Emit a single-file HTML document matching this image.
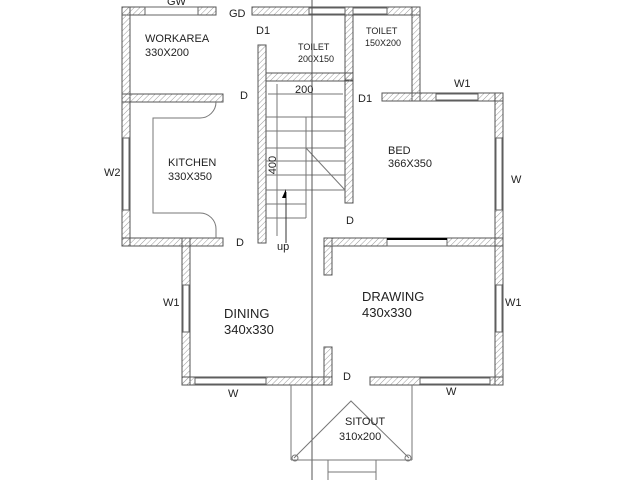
<!DOCTYPE html>
<html><head><style>body{margin:0;background:#fff}svg{display:block}</style></head><body>
<svg width="640" height="480" viewBox="0 0 640 480" xmlns="http://www.w3.org/2000/svg" font-family="Liberation Sans, DejaVu Sans, sans-serif">
<defs><pattern id="h" width="4" height="4" patternUnits="userSpaceOnUse" patternTransform="rotate(45)"><line x1="0" y1="0" x2="0" y2="4" stroke="#999" stroke-width="1"/></pattern></defs>
<rect width="640" height="480" fill="#fff"/>
<g fill="url(#h)" stroke="#555" stroke-width="1">
<!-- top wall -->
<rect x="122" y="7" width="94" height="8"/>
<rect x="252" y="7" width="168" height="8"/>
<rect x="122" y="7" width="8" height="239"/>
<rect x="345" y="7" width="8" height="73"/>
<rect x="412" y="7" width="8" height="94"/>
<rect x="382" y="93" width="121" height="8"/>
<rect x="495" y="93" width="8" height="292"/>
<rect x="122" y="94" width="101" height="8"/>
<rect x="122" y="238" width="101" height="8"/>
<rect x="258" y="45" width="8" height="198"/>
<rect x="266" y="73" width="87" height="8"/>
<rect x="345" y="73" width="8" height="130"/>
<rect x="182" y="238" width="8" height="147"/>
<rect x="182" y="377" width="150" height="8"/>
<rect x="324" y="238" width="8" height="37"/>
<rect x="324" y="347" width="8" height="38"/>
<rect x="324" y="238" width="179" height="8"/>
<rect x="370" y="377" width="133" height="8"/>
</g>
<!-- windows -->
<g fill="#fff" stroke="#666" stroke-width="1">
<rect x="145" y="7" width="53" height="8"/>
<rect x="309" y="8" width="36" height="6"/>
<rect x="353" y="8" width="34" height="6"/>
<rect x="436" y="94" width="42" height="6"/>
<rect x="123" y="138" width="6" height="72"/>
<rect x="496" y="138" width="6" height="72"/>
<rect x="183" y="285" width="6" height="47"/>
<rect x="496" y="285" width="6" height="47"/>
<rect x="195" y="378" width="71" height="6"/>
<rect x="420" y="378" width="70" height="6"/>
<rect x="387" y="239" width="60" height="7"/>
</g>
<line x1="387" y1="239" x2="447" y2="239" stroke="#000" stroke-width="2"/>
<!-- kitchen counter -->
<path d="M216,102 A16,16 0 0 1 200,118 L153,118 L153,213 L200,213 A16,16 0 0 1 216,229 L216,238" fill="none" stroke="#777"/>
<!-- stairs -->
<g stroke="#777" stroke-width="1">
<line x1="266" y1="117" x2="345" y2="117"/>
<line x1="266" y1="131" x2="345" y2="131"/>
<line x1="266" y1="148" x2="345" y2="148"/>
<line x1="266" y1="161" x2="345" y2="161"/>
<line x1="266" y1="175" x2="345" y2="175"/>
<line x1="266" y1="190" x2="345" y2="190"/>
<line x1="266" y1="204" x2="306" y2="204"/>
<line x1="266" y1="218" x2="306" y2="218"/>
<line x1="306" y1="117" x2="306" y2="218"/>
<line x1="306" y1="148" x2="345" y2="190"/>
<line x1="277" y1="84" x2="277" y2="236"/>
<line x1="268" y1="94" x2="343" y2="94"/>
</g>
<line x1="286" y1="243" x2="286" y2="192" stroke="#333"/>
<polygon points="286,189 282,198 286,198" fill="#000"/>
<!-- axis -->
<line x1="312" y1="0" x2="312" y2="480" stroke="#555"/>
<!-- sitout -->
<g stroke="#777" fill="none">
<line x1="291" y1="385" x2="291" y2="460"/>
<line x1="412" y1="385" x2="412" y2="460"/>
<line x1="291" y1="460" x2="412" y2="460"/>
<polyline points="294,458 351,401 409,458"/>
<circle cx="295" cy="458" r="3"/><circle cx="408" cy="458" r="3"/>
<rect x="328" y="460" width="48" height="22"/>
<line x1="328" y1="472" x2="376" y2="472"/>
</g>
<g fill="#222" font-size="11">
<text x="167" y="5">GW</text>
<text x="229" y="17">GD</text>
<text x="256" y="34">D1</text>
<text x="145" y="42">WORKAREA</text>
<text x="145" y="56">330X200</text>
<text x="298" y="50" font-size="9">TOILET</text>
<text x="298" y="62" font-size="9">200X150</text>
<text x="366" y="34" font-size="9">TOILET</text>
<text x="365" y="46" font-size="9">150X200</text>
<text x="240" y="99">D</text>
<text x="295" y="93">200</text>
<text x="358" y="102">D1</text>
<text x="454" y="87">W1</text>
<text x="168" y="166">KITCHEN</text>
<text x="168" y="180">330X350</text>
<text x="104" y="176">W2</text>
<text x="388" y="154">BED</text>
<text x="388" y="167">366X350</text>
<text x="511" y="183">W</text>
<text x="276" y="165" transform="rotate(-90 276 165)" text-anchor="middle">400</text>
<text x="346" y="224">D</text>
<text x="236" y="246">D</text>
<text x="277" y="250">up</text>
<text x="163" y="306">W1</text>
<text x="505" y="306">W1</text>
<text x="224" y="318" font-size="13">DINING</text>
<text x="224" y="334" font-size="13">340x330</text>
<text x="362" y="301" font-size="13">DRAWING</text>
<text x="362" y="317" font-size="13">430x330</text>
<text x="343" y="380">D</text>
<text x="228" y="397">W</text>
<text x="446" y="395">W</text>
<text x="345" y="425">SITOUT</text>
<text x="339" y="440">310x200</text>
</g>
</svg>
</body></html>
